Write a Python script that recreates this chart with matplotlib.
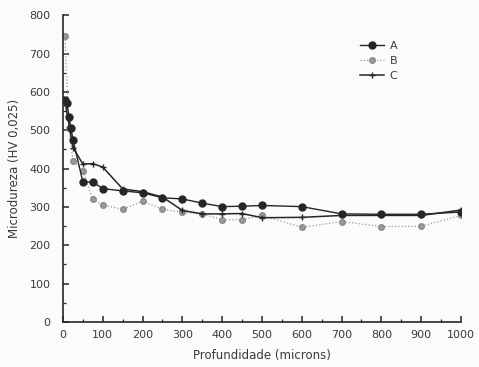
import matplotlib.pyplot as plt
import numpy as np

# microhardness profiles
depth_a = [5, 10, 15, 20, 25, 50, 75, 100, 150, 200, 250, 300, 350, 400, 450, 500, 600, 700, 800, 900, 1000]
hv_a = [580, 570, 535, 505, 476, 365, 365, 348, 342, 337, 324, 321, 310, 301, 302, 304, 301, 282, 281, 281, 287]

depth_b = [5, 15, 25, 50, 75, 100, 150, 200, 250, 300, 350, 400, 450, 500, 600, 700, 800, 900, 1000]
hv_b = [745, 505, 420, 395, 320, 305, 294, 315, 294, 286, 282, 267, 267, 278, 247, 262, 249, 250, 278]

depth_c = [5, 25, 50, 75, 100, 150, 200, 250, 300, 350, 400, 450, 500, 600, 700, 800, 900, 1000]
hv_c = [575, 455, 412, 413, 404, 347, 340, 326, 291, 282, 282, 283, 272, 273, 278, 278, 278, 292]

series_labels = ["A", "B", "C"]

ink = "#262626"
text_col = "#3a3a3a"

fig = plt.figure(figsize=(4.79, 3.67), dpi=100, facecolor="#fbfbfb")
ax = fig.add_axes([0.1315, 0.1226, 0.8309, 0.8357], facecolor="#fbfbfb")

ax.plot(depth_a, hv_a, color=ink, lw=1.0, marker="o", ms=5, mfc=ink, mec=ink, label=series_labels[0], zorder=3)
ax.plot(depth_b, hv_b, color="#9a9a9a", lw=0.9, ls=":", marker="o", ms=4, mfc="#9a9a9a", mec="#8a8a8a", label=series_labels[1], zorder=2)
ax.plot(depth_c, hv_c, color=ink, lw=1.1, marker="+", ms=5, mew=1.0, label=series_labels[2], zorder=2)

ax.set_xlim(0, 1000)
ax.set_ylim(0, 800)
ax.set_xticks(np.arange(0, 1001, 100))
ax.set_yticks(np.arange(0, 801, 100))
ax.set_xticks(np.arange(50, 1000, 100), minor=True)
ax.set_yticks(np.arange(50, 800, 100), minor=True)

for s in ["top", "right"]:
    ax.spines[s].set_visible(False)
for s in ["left", "bottom"]:
    ax.spines[s].set_color(ink)
    ax.spines[s].set_linewidth(1.2)

ax.tick_params(which="major", direction="in", length=4, width=1.1, color=ink, labelsize=8, labelcolor=text_col)
ax.tick_params(axis="y", which="major", pad=9)
ax.tick_params(axis="x", which="major", pad=6)
ax.tick_params(which="minor", direction="in", length=2, width=0.9, color=ink)

ax.set_xlabel("Profundidade (microns)", fontsize=8.5, color=text_col, labelpad=6)
ax.set_ylabel("Microdureza (HV 0,025)", fontsize=8.5, color=text_col, labelpad=6)

ax.legend(loc="upper left", bbox_to_anchor=(0.72, 0.95), frameon=False, fontsize=8,
          handlelength=2.2, handletextpad=0.5, labelspacing=0.45, labelcolor=text_col)

fig.savefig("out.png", dpi=100, facecolor=fig.get_facecolor())
